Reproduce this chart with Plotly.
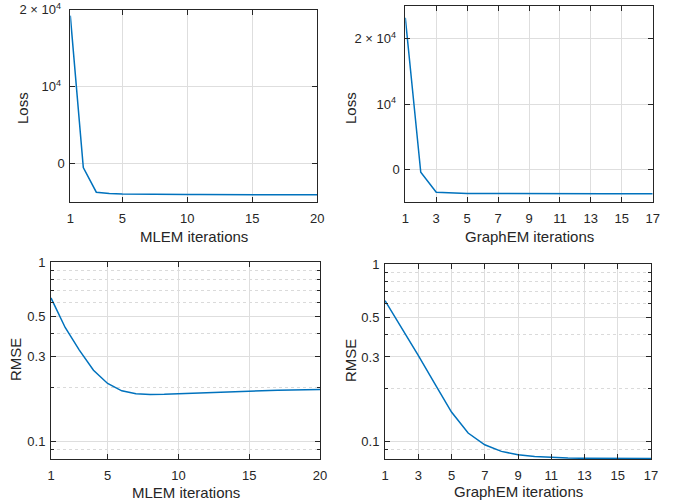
import math
import plotly.graph_objects as go

W, H = 678, 504

mlem_iter = list(range(1, 21))
graphem_iter = list(range(1, 18))

mlem_loss = [19200, -520, -3730, -3900, -3960, -3990, -4010, -4020, -4030, -4035,
             -4040, -4040, -4045, -4045, -4050, -4050, -4050, -4050, -4050, -4050]
graphem_loss = [23150, -410, -3460, -3590, -3640, -3660, -3680, -3690, -3700, -3700,
                -3705, -3705, -3710, -3710, -3710, -3710, -3710]

mlem_rmse = [0.633, 0.433, 0.324, 0.250, 0.211, 0.192, 0.185, 0.1834, 0.1836, 0.185,
             0.1865, 0.188, 0.1893, 0.1905, 0.1915, 0.1925, 0.1935, 0.1942, 0.1949, 0.1955]
graphem_rmse = [0.622, 0.438, 0.306, 0.212, 0.147, 0.112, 0.0962, 0.0883, 0.0845, 0.0827,
                0.0816, 0.0810, 0.0807, 0.0806, 0.0805, 0.0805, 0.0805]

mlem_xticks = [1, 5, 10, 15, 20]
graphem_xticks = [1, 3, 5, 7, 9, 11, 13, 15, 17]
loss_ticks = [0, 10000, 20000]
loss_ticktext = ["0", "10<sup>4</sup>\u00a0", "2 × 10<sup>4</sup>\u00a0"]
rmse_ticks = [0.1, 0.3, 0.5, 1]
rmse_ticktext = ["0.1", "0.3", "0.5", "1"]
rmse_minor = [0.09, 0.2, 0.4, 0.6, 0.7, 0.8, 0.9]

LINE = "#0072BD"
AX = "#262626"
GRID = "#dedede"
FONT = "Liberation Sans, Arial, Helvetica, sans-serif"


def px_x(x):
    return min(max(x / W, 0), 1)


def px_y(y):
    return min(max(1 - y / H, 0), 1)


fig = go.Figure()
fig.add_trace(go.Scatter(x=mlem_iter, y=mlem_loss, mode="lines", line=dict(color=LINE, width=1.5),
                         xaxis="x", yaxis="y", showlegend=False))
fig.add_trace(go.Scatter(x=graphem_iter, y=graphem_loss, mode="lines", line=dict(color=LINE, width=1.5),
                         xaxis="x2", yaxis="y2", showlegend=False))
fig.add_trace(go.Scatter(x=mlem_iter, y=mlem_rmse, mode="lines", line=dict(color=LINE, width=1.5),
                         xaxis="x3", yaxis="y3", showlegend=False))
fig.add_trace(go.Scatter(x=graphem_iter, y=graphem_rmse, mode="lines", line=dict(color=LINE, width=1.5),
                         xaxis="x4", yaxis="y4", showlegend=False))

common = dict(showline=True, linecolor=AX, linewidth=1, mirror="allticks", ticks="inside",
              ticklen=5, tickcolor=AX, tickwidth=1, showgrid=True, gridcolor=GRID, gridwidth=1,
              zeroline=False, automargin=False, ticklabeloverflow="allow",
              tickfont=dict(family=FONT, size=13, color=AX))

# axes boxes in page pixels
doms = {
    1: ((70.3, 317.3), (9.5, 202)),
    2: ((405.3, 652.7), (5.7, 202.3)),
    3: ((51, 320), (262.3, 459)),
    4: ((385, 651), (264, 459)),
}
loss_ranges = {1: [-5000, 20000], 2: [-5000, 25000]}

layout = dict(width=W, height=H, margin=dict(l=0, r=0, t=0, b=0, autoexpand=False),
              template="none",
              paper_bgcolor="white", plot_bgcolor="white", showlegend=False)

for i in range(1, 5):
    (x0, x1), (y0, y1) = doms[i]
    xk = "xaxis" if i == 1 else f"xaxis{i}"
    yk = "yaxis" if i == 1 else f"yaxis{i}"
    xname = "x" if i == 1 else f"x{i}"
    yname = "y" if i == 1 else f"y{i}"
    xt = mlem_xticks if i in (1, 3) else graphem_xticks
    xr = [1, 20] if i in (1, 3) else [1, 17]
    layout[xk] = dict(common, domain=[px_x(x0), px_x(x1)], anchor=yname, range=xr,
                      tickvals=xt, ticktext=[str(v) for v in xt], ticklabelstandoff=4)
    if i in (1, 2):
        layout[yk] = dict(common, domain=[px_y(y1), px_y(y0)], anchor=xname, range=loss_ranges[i],
                          tickvals=loss_ticks, ticktext=loss_ticktext, ticklabelstandoff=2)
    else:
        layout[yk] = dict(common, domain=[px_y(y1), px_y(y0)], anchor=xname, type="log",
                          range=[math.log10(0.08), 0], tickvals=rmse_ticks, ticktext=rmse_ticktext,
                          ticklabelstandoff=2,
                          minor=dict(tickvals=rmse_minor, ticks="inside", ticklen=3, tickcolor=AX,
                                     showgrid=True, gridcolor="#dadada", griddash="dot", gridwidth=1))

fig.update_layout(**layout)

titles = [
    ("Loss", 22, 108, -90),
    ("MLEM iterations", 193.7, 236, 0),
    ("Loss", 350, 108, -90),
    ("GraphEM iterations", 529, 236, 0),
    ("RMSE", 15, 360, -90),
    ("MLEM iterations", 185.5, 492.5, 0),
    ("RMSE", 350, 360, -90),
    ("GraphEM iterations", 518, 491, 0),
]
for text, x, y, rot in titles:
    fig.add_annotation(text=text, xref="paper", yref="paper", x=px_x(x), y=px_y(y),
                       xanchor="center", yanchor="middle", showarrow=False, textangle=rot,
                       font=dict(family=FONT, size=15, color=AX))

# remove the browser's default 8px page margin so the figure fills the window
fig.write_html("out.html", config={"displayModeBar": False},
               post_script="document.body.style.margin='0';")
